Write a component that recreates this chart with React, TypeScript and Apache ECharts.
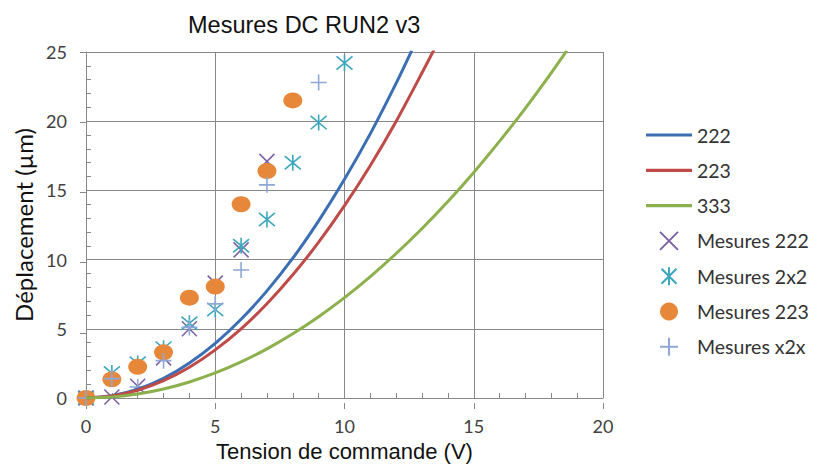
import React, { useEffect, useRef } from "react";
import * as echarts from "echarts";

// Model curves
const curveX222 = [0, 1, 2, 3, 4, 5, 6, 7, 8, 9, 10, 11, 12, 12.6];
const curve222 = [0, 0.16, 0.63, 1.42, 2.53, 3.95, 5.69, 7.74, 10.1, 12.8, 15.8, 19.1, 22.75, 25.1];
const curveX223 = [0, 1, 2, 3, 4, 5, 6, 7, 8, 9, 10, 11, 12, 13, 13.5];
const curve223 = [0, 0.14, 0.56, 1.25, 2.22, 3.48, 5.0, 6.81, 8.9, 11.26, 13.9, 16.8, 20.0, 23.5, 25.3];
const curveX333 = [0, 1, 2, 3, 4, 5, 6, 7, 8, 9, 10, 11, 12, 13, 14, 15, 16, 17, 18, 18.6];
const curve333 = [0, 0.07, 0.29, 0.65, 1.16, 1.81, 2.61, 3.55, 4.64, 5.87, 7.25, 8.77, 10.44, 12.25, 14.2, 16.3, 18.56, 20.95, 23.5, 25.1];

// Measurements
const mesX222 = [0, 1, 2, 3, 4, 5, 6, 7];
const mes222 = [0, 0.07, 0.85, 2.9, 5.0, 8.3, 10.7, 17.1];
const mesX2x2 = [0, 1, 2, 3, 4, 5, 6, 7, 8, 9, 10];
const mes2x2 = [0, 1.8, 2.5, 3.6, 5.4, 6.4, 11.0, 12.9, 17.0, 19.9, 24.2];
const mesX223 = [0, 1, 2, 3, 4, 5, 6, 7, 8];
const mes223 = [0, 1.35, 2.25, 3.3, 7.25, 8.05, 14.0, 16.4, 21.5];
const mesXx2x = [0, 1, 2, 3, 4, 5, 6, 7, 9];
const mesx2x = [0, 1.4, 0.8, 2.7, 5.1, 6.8, 9.25, 15.4, 22.8];

const legendNames = ["222", "223", "333", "Mesures 222", "Mesures 2x2", "Mesures 223", "Mesures x2x"];

const xTicks = { min: 0, max: 20, interval: 5 };
const yTicks = { min: 0, max: 25, interval: 5 };

const pairs = (xs: number[], ys: number[]) => xs.map((x, i) => [x, ys[i]]);

const SYM_X = "path://M0,0L10,10M10,0L0,10";
const SYM_AST = "path://M0,0L10,10M10,0L0,10M5,-1L5,11";
const SYM_PLUS = "path://M5,0L5,10M0,5L10,5";
const LEGEND_LINE = "path://M0,0L46,0L46,3.2L0,3.2Z";

export default function App() {
  const ref = useRef<HTMLDivElement>(null);
  useEffect(() => {
    if (!ref.current) return;
    const chart = echarts.init(ref.current, undefined, { renderer: "svg" });
    const gridColor = "#888888";
    const tickFont = { fontFamily: "Lato", fontSize: 18, color: "#404040" };
    const gridBox = { left: 86, right: 210, top: 52, bottom: 64 };
    const lineSeries = (name: string, xs: number[], ys: number[], color: string) => ({
      name,
      type: "line",
      data: pairs(xs, ys),
      smooth: 0.3,
      symbol: "none",
      lineStyle: { color, width: 3 },
      itemStyle: { color },
      xAxisIndex: 0,
      yAxisIndex: 0,
    });
    const strokeScatter = (name: string, xs: number[], ys: number[], color: string, symbol: string, size: number) => ({
      name,
      type: "scatter",
      data: pairs(xs, ys),
      symbol,
      symbolSize: size,
      itemStyle: { color: "rgba(0,0,0,0)", borderColor: color, borderWidth: 1.6, opacity: 1 },
      xAxisIndex: 0,
      yAxisIndex: 0,
    });
    chart.setOption({
      animation: false,
      backgroundColor: "#ffffff",
      title: {
        text: "Mesures DC RUN2 v3",
        left: 183,
        top: 8,
        textStyle: { fontFamily: "Liberation Sans", fontSize: 23.5, fontWeight: "normal", color: "#111" },
      },
      grid: [{ ...gridBox }, { ...gridBox }],
      legend: {
        orient: "vertical",
        left: 641,
        top: 120,
        itemWidth: 46,
        itemHeight: 18,
        itemGap: 15.3,
        textStyle: { fontFamily: "Lato", fontSize: 19.5, color: "#333" },
        data: legendNames.map((n, i) => (i < 3 ? { name: n, icon: LEGEND_LINE } : { name: n })),
      },
      xAxis: [
        {
          type: "value",
          gridIndex: 0,
          ...xTicks,
          name: "Tension de commande (V)",
          nameLocation: "middle",
          nameGap: 42,
          nameTextStyle: { fontFamily: "Liberation Sans", fontSize: 22, color: "#111" },
          axisLine: { show: true, lineStyle: { color: gridColor, width: 1 } },
          axisTick: { show: true, inside: true, length: 5, lineStyle: { color: gridColor } },
          minorTick: { show: true, splitNumber: 5, length: 5, lineStyle: { color: gridColor } },
          axisLabel: { ...tickFont, margin: 19 },
          splitLine: { show: true, lineStyle: { color: gridColor, width: 1 } },
        },
        {
          type: "value",
          gridIndex: 1,
          ...xTicks,
          position: "bottom",
          axisLine: { show: false },
          axisTick: { show: true, inside: false, length: 6, lineStyle: { color: gridColor } },
          axisLabel: { show: false },
          splitLine: { show: false },
        },
      ],
      yAxis: [
        {
          type: "value",
          gridIndex: 0,
          ...yTicks,
          name: "Déplacement (µm)",
          nameLocation: "middle",
          nameGap: 51,
          nameTextStyle: { fontFamily: "Lato", fontSize: 24, color: "#111" },
          axisLine: { show: true, lineStyle: { color: gridColor, width: 1 } },
          axisTick: { show: true, inside: true, length: 5, lineStyle: { color: gridColor } },
          minorTick: { show: true, splitNumber: 5, length: 5, lineStyle: { color: gridColor } },
          axisLabel: { ...tickFont, margin: 19 },
          splitLine: { show: true, lineStyle: { color: gridColor, width: 1 } },
        },
        {
          type: "value",
          gridIndex: 1,
          ...yTicks,
          position: "left",
          axisLine: { show: false },
          axisTick: { show: true, inside: false, length: 6, lineStyle: { color: gridColor } },
          axisLabel: { show: false },
          splitLine: { show: false },
        },
      ],
      series: [
        lineSeries("222", curveX222, curve222, "#3C6EB4"),
        lineSeries("223", curveX223, curve223, "#BE4B48"),
        lineSeries("333", curveX333, curve333, "#8CB04C"),
        strokeScatter("Mesures 222", mesX222, mes222, "#7E62A5", SYM_X, 15),
        strokeScatter("Mesures 2x2", mesX2x2, mes2x2, "#3BA6BC", SYM_AST, 16),
        {
          name: "Mesures 223",
          type: "scatter",
          data: pairs(mesX223, mes223),
          symbol: "circle",
          symbolSize: [19, 16],
          itemStyle: { color: "#E6873A", opacity: 1 },
          xAxisIndex: 0,
          yAxisIndex: 0,
        },
        strokeScatter("Mesures x2x", mesXx2x, mesx2x, "#8EA8D8", SYM_PLUS, 16),
      ],
    });
    return () => chart.dispose();
  }, []);
  return (
    <div
      ref={ref}
      style={{ position: "fixed", left: 0, top: 0, width: 813, height: 467 }}
    />
  );
}
